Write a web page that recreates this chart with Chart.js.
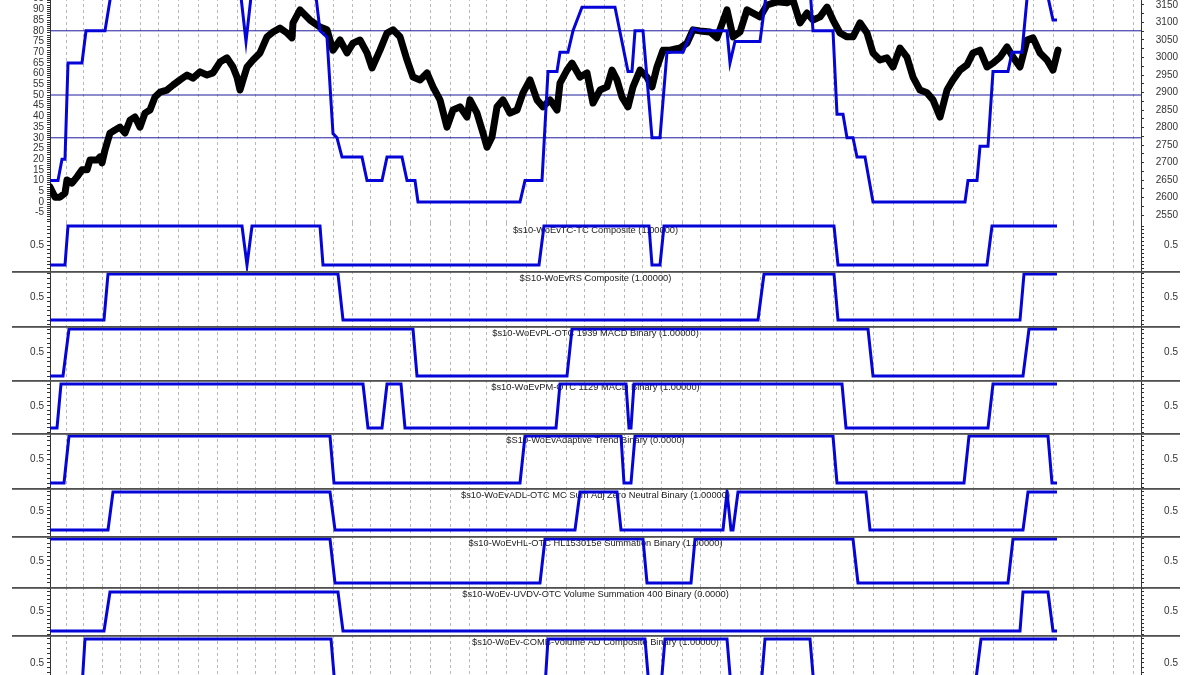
<!DOCTYPE html>
<html>
<head>
<meta charset="utf-8">
<script src="https://cdn.jsdelivr.net/npm/chart.js@4.4.1/dist/chart.umd.min.js"></script>
<style>
html,body{margin:0;padding:0;background:#fff;overflow:hidden;width:1200px;height:675px;}
#wrap{position:relative;width:1200px;height:675px;overflow:hidden;background:#fff;}
#wrap canvas{position:absolute;left:0;}
</style>
</head>
<body>
<div id="wrap"></div>
<script>
// ================= DATA (x = bar number) =================
// month boundaries (dashed vertical grid)
const monthStartBars = [16,33,52,70,90,108,128,148,167,187,205,225,245,264,283,302,320,340,360,380,400,419,436,456,476,496,516,534,554,574,592,612,632,650,670,690,710,727,743,763,783,803,823,843,863,883,903,923,943,963,983,1003,1023,1043,1063,1083];

// price index (right axis) [bar, close]
const priceSeries = [
 [0,2630],[5,2601],[10,2601],[15,2613],[17,2650],[22,2641],[27,2659],[32,2679],[37,2679],[40,2707],
 [47,2707],[50,2716],[52,2699],[55,2736],[60,2784],[65,2793],[70,2801],[75,2784],[80,2821],[85,2830],
 [90,2801],[95,2841],[100,2850],[105,2887],[110,2901],[117,2907],[123,2921],[130,2936],[137,2950],[143,2941],
 [150,2959],[157,2950],[163,2956],[170,2987],[177,2999],[183,2973],[187,2944],[190,2907],[193,2936],[197,2973],
 [203,2993],[210,3013],[217,3059],[223,3073],[230,3084],[237,3070],[242,3056],[243,3099],[250,3136],[260,3107],
 [270,3087],[277,3079],[283,3021],[290,3050],[297,3013],[303,3041],[310,3050],[317,3013],[322,2970],[330,3021],
 [337,3070],[343,3079],[350,3059],[357,2993],[363,2944],[370,2936],[377,2956],[383,2916],[390,2879],[397,2801],
 [403,2850],[410,2859],[417,2830],[420,2879],[427,2841],[433,2784],[437,2744],[442,2773],[447,2859],[453,2879],
 [460,2841],[467,2850],[473,2899],[480,2936],[487,2879],[493,2859],[500,2879],[507,2850],[510,2927],[517,2964],
 [522,2984],[530,2944],[537,2956],[543,2870],[550,2907],[557,2916],[562,2964],[567,2936],[572,2887],[578,2859],
 [583,2916],[590,2964],[597,2944],[602,2916],[607,2973],[613,3021],[620,3021],[630,3027],[637,3041],[643,3079],
 [650,3076],[660,3073],[667,3056],[677,3136],[683,3059],[690,3073],[697,3136],[703,3127],[710,3116],[717,3150],
 [727,3159],[737,3156],[743,3164],[750,3099],[757,3127],[763,3107],[770,3116],[777,3144],[783,3107],[790,3070],
 [797,3059],[803,3059],[810,3099],[817,3070],[823,3013],[830,2993],[837,2999],[843,2973],[850,3027],[857,3001],
 [863,2944],[870,2907],[877,2899],[883,2879],[890,2830],[897,2907],[903,2936],[910,2964],[917,2979],[923,3013],
 [930,3021],[937,2973],[943,2984],[950,3001],[957,3030],[963,3001],[970,2973],[977,3050],[983,3056],[990,3013],
 [997,2993],[1003,2964],[1008,3021]
];

// composite score (left axis 0-100) [bar, value]
const compositeScore = [
 [0,10],[8,10],[12,20],[15,20],[18,65],[32,65],[36,80],[55,80],[62,100],[190,100],[196,75],[202,100],
 [265,100],[270,80],[277,77],[283,32],[287,30],[292,21],[312,21],[317,10],[332,10],[337,21],[352,21],
 [357,10],[365,10],[368,0],[470,0],[475,10],[492,10],[498,61],[507,61],[510,70],[518,70],[523,80],[532,91],
 [565,91],[578,61],[582,61],[585,80],[593,80],[602,30],[610,30],[617,70],[633,70],[643,81],[650,80],[677,80],
 [680,65],[685,75],[710,75],[717,100],[760,100],[763,80],[783,80],[787,41],[793,41],[797,30],[803,30],
 [807,21],[815,21],[823,0],[915,0],[918,10],[927,10],[930,26],[938,26],[943,61],[958,61],[962,70],[972,70],
 [978,100],[996,100],[1003,85],[1007,85]
];
const compositeLevels = [80, 50, 30];

// binary signals [bar, 0/1]
const tcTcComposite = [[0,0],[15,0],[18,1],[192,1],[197,0],[202,1],[270,1],[273,0],[489,0],[494,1],[599,1],[602,0],[610,0],[614,1],[784,1],[788,0],[937,0],[942,1],[1007,1]];
const rsComposite = [[0,0],[54,0],[58,1],[288,1],[293,0],[708,0],[714,1],[784,1],[788,0],[970,0],[974,1],[1007,1]];
const plMacdBinary = [[0,0],[13,0],[19,1],[363,1],[367,0],[517,0],[522,1],[818,1],[823,0],[973,0],[979,1],[1007,1]];
const pmMacdBinary = [[0,0],[7,0],[11,1],[313,1],[318,0],[332,0],[337,1],[351,1],[355,0],[506,0],[510,1],[576,1],[579,0],[581,0],[584,1],[792,1],[796,0],[938,0],[943,1],[1007,1]];
const adaptiveTrendBinary = [[0,0],[14,0],[19,1],[280,1],[284,0],[470,0],[475,1],[571,1],[574,0],[581,0],[585,1],[783,1],[787,0],[914,0],[919,1],[998,1],[1002,0],[1007,0]];
const adlZeroNeutralBinary = [[0,0],[58,0],[63,1],[280,1],[285,0],[525,0],[530,1],[567,1],[571,0],[673,0],[677,1],[681,0],[683,0],[688,1],[816,1],[820,0],[973,0],[978,1],[1007,1]];
const hlSummationBinary = [[0,1],[280,1],[285,0],[490,0],[495,1],[593,1],[597,0],[641,0],[645,1],[803,1],[808,0],[958,0],[963,1],[1007,1]];
const uvdvSummationBinary = [[0,0],[54,0],[60,1],[288,1],[293,0],[970,0],[973,1],[998,1],[1003,0],[1007,0]];
const combVolumeAdBinary = [[0,0],[32,0],[35,1],[281,1],[285,0],[495,0],[498,1],[595,1],[599,0],[611,0],[615,1],[677,1],[681,0],[711,0],[715,1],[760,1],[764,0],[925,0],[931,1],[1007,1]];

const panelTitles = [
 '$s10-WoEvTC-TC Composite (1.00000)',
 '$S10-WoEvRS Composite (1.00000)',
 '$s10-WoEvPL-OTC 1939 MACD Binary (1.00000)',
 '$s10-WoEvPM-OTC 1129 MACD Binary (1.00000)',
 '$S10-WoEvAdaptive Trend Binary (0.0000)',
 '$s10-WoEvADL-OTC MC Sum Adj Zero Neutral Binary (1.00000)',
 '$s10-WoEvHL-OTC HL153015e Summation Binary (1.00000)',
 '$s10-WoEv-UVDV-OTC Volume Summation 400 Binary (0.0000)',
 '$s10-WoEv-COMB-Volume AD Composite Binary (1.00000)'
];
const panelSeries = [tcTcComposite, rsComposite, plMacdBinary, pmMacdBinary, adaptiveTrendBinary, adlZeroNeutralBinary, hlSummationBinary, uvdvSummationBinary, combVolumeAdBinary];

// ================= LAYOUT / STYLE =================
const X_MIN = 0, X_MAX = 1091;
const TOP_PANEL = {top: -20, height: 243, leftMin: -9.81, leftMax: 103.74, rightMin: 2527.2, rightMax: 3221.4};
// [canvas top, canvas height, axis min, axis max]
const panelLayout = [
 [223,48,-0.154,1.077],[271,55,-0.130,1.065],[326,54,-0.085,1.064],[380,53,-0.114,1.091],
 [433,55,-0.106,1.064],[488,48,-0.158,1.105],[536,51,-0.091,1.068],[587,48,-0.103,1.128],[635,55,-0.0625,1.083]
];
const BLUE = '#0505d8';
const LEVEL = '#1c1c9c';
const AXIS = '#333';

Chart.defaults.font.family = '"Liberation Sans", Arial, sans-serif';
Chart.defaults.font.size = 10;
Chart.defaults.color = '#333';

const toXY = arr => arr.map(([x, y]) => ({x, y}));

function xAxis() {
  return {
    type: 'linear', position: 'bottom', min: X_MIN, max: X_MAX,
    afterBuildTicks: s => { s.ticks = monthStartBars.map(v => ({value: v})); },
    ticks: {display: false},
    grid: {display: true, drawTicks: false, color: '#b8b8b8', lineWidth: 1},
    border: {display: false, dash: [3, 3]},
    afterFit: s => { s.height = 0; s.paddingLeft = 0; s.paddingRight = 0; }
  };
}
function yAxis(pos, min, max, step, labelFn) {
  return {
    type: 'linear', position: pos, min, max,
    ticks: {stepSize: step, autoSkip: false, maxTicksLimit: 1000, includeBounds: false,
            padding: 3, crossAlign: pos === 'right' ? 'far' : 'near', callback: labelFn,
            color: '#333', font: {size: 10}},
    grid: {display: true, drawOnChartArea: false, drawTicks: true, tickLength: 3, tickColor: AXIS, tickWidth: 1},
    border: {display: true, color: AXIS, width: 1},
    afterFit: s => { s.width = pos === 'left' ? 50 : 37; s.paddingTop = 0; s.paddingBottom = 0; }
  };
}

const panelDecor = {
  id: 'panelDecor',
  beforeDatasetsDraw(chart, args, opts) {
    if (!opts.title) return;
    const ctx = chart.ctx, a = chart.chartArea;
    ctx.save();
    ctx.font = '9.3px "Liberation Sans", Arial, sans-serif';
    ctx.fillStyle = '#222';
    ctx.textAlign = 'center';
    ctx.textBaseline = 'middle';
    ctx.fillText(opts.title, (a.left + a.right) / 2, a.top + 7);
    ctx.restore();
  },
  afterDraw(chart, args, opts) {
    if (!opts.separator) return;
    const ctx = chart.ctx;
    ctx.save();
    ctx.fillStyle = '#505050';
    ctx.fillRect(12, 0, 1168, 1.8);
    ctx.restore();
  }
};

function makeCanvas(top, height) {
  const c = document.createElement('canvas');
  c.width = 1200; c.height = height;
  c.style.top = top + 'px';
  c.style.width = '1200px'; c.style.height = height + 'px';
  document.getElementById('wrap').appendChild(c);
  return c;
}

const common = {
  responsive: false, animation: false, events: [],
  layout: {padding: {left: 0, right: 22, top: 0, bottom: 0}},
  elements: {point: {radius: 0}, line: {tension: 0}}
};

// ---------- top panel ----------
new Chart(makeCanvas(TOP_PANEL.top, TOP_PANEL.height), {
  type: 'line',
  data: {datasets: [
    {data: toXY(compositeScore), yAxisID: 'yL', borderColor: BLUE, borderWidth: 3, borderJoinStyle: 'miter'},
    {data: toXY(priceSeries), yAxisID: 'yR', borderColor: '#000', borderWidth: 7, borderJoinStyle: 'round', borderCapStyle: 'round'},
    ...compositeLevels.map(lv => ({data: [{x: X_MIN, y: lv}, {x: X_MAX, y: lv}], yAxisID: 'yL', borderColor: LEVEL, borderWidth: 1}))
  ]},
  options: Object.assign({}, common, {
    plugins: {legend: {display: false}, tooltip: {enabled: false}, panelDecor: {title: '', separator: false}},
    scales: {
      x: xAxis(),
      yL: yAxis('left', TOP_PANEL.leftMin, TOP_PANEL.leftMax, 1, v => (Math.round(v) % 5 === 0 ? String(Math.round(v)) : '')),
      yR: yAxis('right', TOP_PANEL.rightMin, TOP_PANEL.rightMax, 25, v => (Math.round(v) % 50 === 0 ? String(Math.round(v)) : ''))
    }
  }),
  plugins: [panelDecor]
});

// ---------- binary panels ----------
panelSeries.forEach((series, i) => {
  const [top, h, mn, mx] = panelLayout[i];
  const lab = v => (Math.abs(v - 0.5) < 1e-6 ? '0.5' : '');
  new Chart(makeCanvas(top, h), {
    type: 'line',
    data: {datasets: [{data: toXY(series), yAxisID: 'yL', borderColor: BLUE, borderWidth: 3, borderJoinStyle: 'miter'}]},
    options: Object.assign({}, common, {
      plugins: {legend: {display: false}, tooltip: {enabled: false}, panelDecor: {title: panelTitles[i], separator: i > 0}},
      scales: {
        x: xAxis(),
        yL: yAxis('left', mn, mx, 0.1, lab),
        yR: yAxis('right', mn, mx, 0.1, lab)
      }
    }),
    plugins: [panelDecor]
  });
});
</script>
</body>
</html>
